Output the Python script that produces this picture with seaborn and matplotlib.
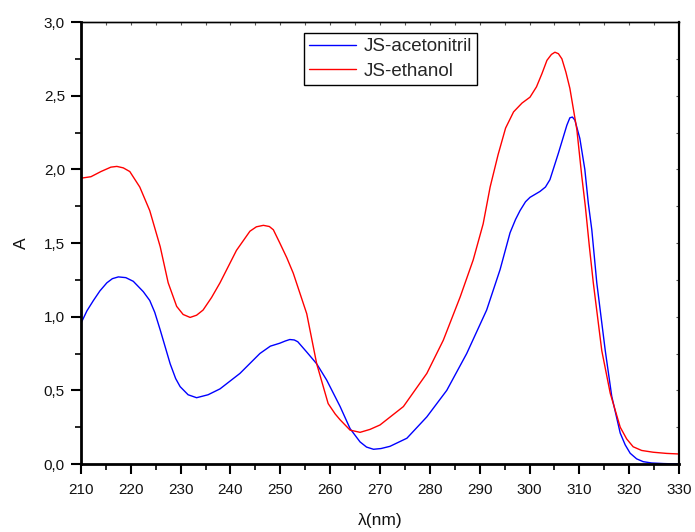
import matplotlib
matplotlib.use("Agg")
import matplotlib.pyplot as plt
from matplotlib.ticker import MultipleLocator, FuncFormatter
import numpy as np
import pandas as pd
import seaborn as sns

# Absorption spectra of JS in two solvents (wavelength in nm, absorbance A)
wl_acetonitril = [210, 211.2, 212.5, 213.8, 215.2, 216.3, 217.5, 219.0, 220.5, 222.5,
                  223.8, 224.8, 225.9, 227.9, 229.0, 229.9, 231.5, 233.2, 235.5, 237.9,
                  241.9, 245.9, 248.0, 249.9, 251.0, 251.9, 252.8, 253.5, 255.3, 257.3,
                  259.3, 262.0, 264.0, 266.0, 267.3, 268.7, 270.2, 272.0, 275.4, 279.4,
                  283.4, 287.4, 291.4, 294.1, 296.1, 297.2, 298.1, 299.2, 300.1, 302.1,
                  303.2, 304.1, 305.8, 307.5, 308.1, 308.6, 309.1, 310.1, 311.1, 311.8,
                  312.5, 313.5, 315.2, 316.5, 318.2, 319.2, 320.2, 321.5, 322.8, 324.5,
                  326.9, 330.0]
abs_acetonitril = [0.955, 1.04, 1.11, 1.175, 1.23, 1.258, 1.27, 1.265, 1.24, 1.17,
                   1.11, 1.03, 0.91, 0.68, 0.58, 0.525, 0.47, 0.45, 0.47, 0.51,
                   0.615, 0.75, 0.80, 0.82, 0.835, 0.845, 0.842, 0.83, 0.76, 0.68,
                   0.57, 0.39, 0.24, 0.15, 0.115, 0.10, 0.105, 0.12, 0.175, 0.32,
                   0.50, 0.75, 1.045, 1.32, 1.57, 1.66, 1.72, 1.78, 1.81, 1.85,
                   1.88, 1.93, 2.11, 2.30, 2.35, 2.355, 2.335, 2.21, 2.00, 1.77,
                   1.59, 1.23, 0.77, 0.46, 0.21, 0.13, 0.073, 0.035, 0.016, 0.007,
                   0.003, 0.0]

wl_ethanol = [210, 212.0, 214.0, 216.0, 217.2, 218.5, 219.8, 221.8, 223.8, 225.9,
              227.5, 229.2, 230.5, 231.9, 233.2, 234.5, 236.2, 237.9, 241.2, 243.9,
              245.2, 246.6, 247.8, 248.6, 249.9, 251.3, 252.6, 255.3, 257.3, 259.6,
              261.0, 262.0, 264.0, 266.0, 268.0, 270.0, 274.7, 279.4, 282.7, 286.1,
              288.7, 290.7, 292.1, 293.7, 295.2, 296.8, 298.5, 300.1, 301.4, 302.5,
              303.5, 304.4, 305.1, 305.8, 306.5, 307.3, 308.1, 309.5, 310.5, 311.2,
              312.0, 312.8, 314.5, 316.2, 318.2, 319.5, 320.8, 322.5, 324.8, 327.5,
              330.0]
abs_ethanol = [1.94, 1.95, 1.985, 2.015, 2.02, 2.01, 1.985, 1.88, 1.72, 1.475,
               1.23, 1.07, 1.015, 0.995, 1.01, 1.045, 1.13, 1.23, 1.45, 1.58,
               1.61, 1.62, 1.612, 1.59, 1.50, 1.40, 1.295, 1.02, 0.68, 0.41,
               0.34, 0.30, 0.23, 0.215, 0.235, 0.265, 0.39, 0.615, 0.84, 1.135,
               1.385, 1.63, 1.88, 2.10, 2.28, 2.39, 2.45, 2.49, 2.56, 2.65,
               2.74, 2.78, 2.795, 2.785, 2.75, 2.66, 2.55, 2.27, 1.95, 1.75,
               1.48, 1.23, 0.77, 0.48, 0.25, 0.17, 0.117, 0.092, 0.08, 0.072,
               0.068]

series_names = ["JS-acetonitril", "JS-ethanol"]
series_colors = ["#0000ff", "#ff0000"]

df = pd.concat([
    pd.DataFrame({"wl": wl_acetonitril, "A": abs_acetonitril, "sample": series_names[0]}),
    pd.DataFrame({"wl": wl_ethanol, "A": abs_ethanol, "sample": series_names[1]}),
], ignore_index=True)

sns.set_style("ticks")
plt.rcParams["font.family"] = ["Liberation Sans", "DejaVu Sans"]

fig = plt.figure(figsize=(6.95, 5.32), dpi=100)
ax = fig.add_axes([0.1165, 0.1278, 0.8605, 0.8308])

sns.lineplot(data=df, x="wl", y="A", hue="sample", hue_order=series_names,
             palette=dict(zip(series_names, series_colors)), estimator=None,
             sort=False, linewidth=1.0, ax=ax)
for line in ax.get_lines():
    line.set_solid_joinstyle("round")

ax.set_xlim(210, 330)
ax.set_ylim(0, 3.0)
ax.xaxis.set_major_locator(MultipleLocator(10))
ax.xaxis.set_minor_locator(MultipleLocator(5))
ax.yaxis.set_major_locator(MultipleLocator(0.5))
ax.yaxis.set_minor_locator(MultipleLocator(0.25))
ax.yaxis.set_major_formatter(FuncFormatter(lambda v, p: f"{v:.1f}".replace(".", ",")))

ax.tick_params(axis="both", which="major", direction="out", length=7, width=1.5,
               labelsize=11, color="black", labelcolor="#111111")
ax.tick_params(axis="both", which="minor", direction="out", length=4.5, width=1.2,
               color="black")
ax.tick_params(axis="x", which="major", pad=7)
ax.tick_params(axis="y", which="major", pad=4.5)

# Small inward ticks on the top and right frame
ax_top = ax.secondary_xaxis("top")
ax_top.xaxis.set_major_locator(MultipleLocator(5))
ax_top.tick_params(direction="in", length=2, width=0.8, labeltop=False, color="#555555")
ax_top.spines["top"].set_linewidth(1.0)
ax_right = ax.secondary_yaxis("right")
ax_right.yaxis.set_major_locator(MultipleLocator(0.25))
ax_right.tick_params(direction="in", length=2, width=0.8, labelright=False, color="#555555")
ax_right.spines["right"].set_linewidth(1.5)

ax.spines["left"].set_linewidth(2.0)
ax.spines["bottom"].set_linewidth(2.0)
ax.spines["top"].set_linewidth(1.0)
ax.spines["right"].set_linewidth(1.5)
for s in ax.spines.values():
    s.set_color("black")

ax.set_xlabel("λ(nm)", fontsize=12.5, labelpad=11, color="#111111")
ax.set_ylabel("A", fontsize=12.5, labelpad=11, color="#111111")

leg = ax.legend(loc="upper left", bbox_to_anchor=(0.373, 0.975), borderaxespad=0,
                fontsize=13.5, frameon=True, fancybox=False, shadow=False,
                handlelength=2.5, handletextpad=0.4, labelspacing=0.38,
                borderpad=0.28, title=None)
leg.get_frame().set_edgecolor("black")
leg.get_frame().set_linewidth(1.0)
leg.get_frame().set_alpha(1)

fig.savefig("out.png", dpi=100)
